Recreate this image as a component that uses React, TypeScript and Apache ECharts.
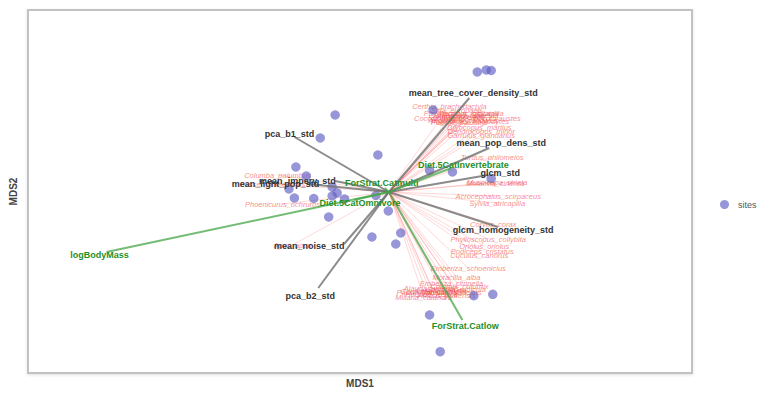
import React, { useEffect, useRef } from "react";
import * as echarts from "echarts";

// Site scores (MDS1, MDS2)
const siteX = [0.89, 0.98, 1.03, 0.445, -0.54, -0.69, -0.11, -0.935, -0.83, -1.005, -0.57, -0.52, -0.57, -0.95, -0.755, -0.445, -0.13, -0.005, -0.605, -0.17, 0.12, 0.07, 0.41, 0.64, 1.03, 0.855, 1.046, 0.41, 0.517];
const siteY = [1.2, 1.22, 1.215, 0.82, 0.77, 0.54, 0.37, 0.25, 0.16, 0.03, 0.05, -0.01, -0.04, -0.06, -0.065, -0.07, -0.035, -0.19, -0.25, -0.45, -0.41, -0.52, 0.215, 0.2, 0.135, -1.037, -1.023, -1.23, -1.597];

// Environmental vectors
const envNames = ["mean_tree_cover_density_std", "mean_pop_dens_std", "glcm_std", "glcm_homogeneity_std", "pca_b1_std", "pca_b2_std", "mean_noise_std", "mean_light_pop_std", "mean_imperv_std"];
const envX = [0.81, 1.01, 1.0, 1.1, -0.95, -0.71, -0.45, -0.82, -0.54];
const envY = [0.94, 0.44, 0.17, -0.35, 0.55, -0.96, -0.52, 0.08, 0.11];
const envLabelX = [0.85, 1.13, 1.12, 1.15, -1.0, -0.79, -0.8, -1.14, -0.92];
const envLabelY = [0.99, 0.49, 0.19, -0.38, 0.58, -1.04, -0.54, 0.08, 0.11];

// Trait vectors / centroids
const traitNames = ["logBodyMass", "ForStrat.Catlow", "ForStrat.Catmulti", "Diet.5CatOmnivore", "Diet.5CatInvertebrate"];
const traitX = [-2.84, 0.74, -0.04, -0.35, 0.63];
const traitY = [-0.6, -1.28, 0.04, -0.08, 0.24];
const traitLabelX = [-2.91, 0.77, -0.07, -0.29, 0.75];
const traitLabelY = [-0.63, -1.34, 0.09, -0.11, 0.27];

// Species scores
const speciesNames = [
  "Certhia_brachydactyla", "Phylloscopus_sibilatrix", "Coccothraustes_coccothraustes", "Sitta_europaea", "Periparus_ater", "Regulus_ignicapilla", "Aegithalos_caudatus", "Poecile_palustris", "Troglodytes_troglodytes", "Fringilla_coelebs", "Erithacus_rubecula", "Dryocopus_martius", "Dendrocopos_minor", "Garrulus_glandarius",
  "Turdus_philomelos", "Muscicapa_striata", "Motacilla_cinerea", "Acrocephalus_scirpaceus", "Sylvia_atricapilla", "Corvus_corax", "Phylloscopus_collybita", "Oriolus_oriolus", "Podiceps_cristatus", "Cuculus_canorus", "Emberiza_schoeniclus", "Motacilla_alba", "Emberiza_citrinella",
  "Alauda_arvensis", "Saxicola_rubicola", "Passer_montanus", "Vanellus_vanellus", "Hirundo_rustica", "Anthus_pratensis", "Carduelis_carduelis", "Miliaria_calandra", "Lanius_collurio", "Coturnix_coturnix",
  "Columba_palumbus", "Phoenicurus_ochruros", "Passer_domesticus", "Apus_apus",
];
const speciesX = [
  0.61, 0.73, 0.79, 0.68, 0.73, 0.83, 0.75, 0.71, 0.81, 0.68, 0.78, 0.91, 0.93, 0.93,
  1.04, 1.09, 1.07, 1.1, 1.09, 1.05, 1.0, 0.96, 0.94, 0.91, 0.8, 0.68, 0.63,
  0.43, 0.68, 0.38, 0.63, 0.43, 0.58, 0.45, 0.35, 0.53, 0.71,
  -1.12, -1.07, -1.17, -0.97,
];
const speciesY = [
  0.86, 0.79, 0.74, 0.82, 0.76, 0.79, 0.72, 0.7, 0.71, 0.75, 0.77, 0.65, 0.61, 0.57,
  0.35, 0.1, 0.09, -0.04, -0.11, -0.32, -0.47, -0.54, -0.59, -0.63, -0.76, -0.85, -0.91,
  -0.96, -0.97, -1.0, -1.0, -1.02, -1.03, -0.99, -1.05, -0.98, -0.94,
  0.17, -0.12, 0.08, -0.53,
];

const FONT = "'Liberation Sans', Arial, Helvetica, sans-serif";

function vectorSeries(
  name: string,
  xs: number[],
  ys: number[],
  lxs: number[],
  lys: number[],
  labels: string[],
  stroke: string,
  lineWidth: number,
  text: any,
  z: number
) {
  return {
    type: "custom",
    name,
    coordinateSystem: "cartesian2d",
    z,
    silent: true,
    data: xs.map((x, i) => [x, ys[i], lxs[i], lys[i]]),
    encode: { x: [0, 2], y: [1, 3] },
    renderItem: (params: any, api: any) => {
      const o = api.coord([0, 0]);
      const e = api.coord([api.value(0), api.value(1)]);
      const l = api.coord([api.value(2), api.value(3)]);
      return {
        type: "group",
        children: [
          {
            type: "line",
            shape: { x1: o[0], y1: o[1], x2: e[0], y2: e[1] },
            style: { stroke, lineWidth },
          },
          {
            type: "text",
            x: l[0],
            y: l[1],
            style: {
              text: labels[params.dataIndex],
              align: "center",
              verticalAlign: "middle",
              fontFamily: FONT,
              ...text,
            },
          },
        ],
      };
    },
  };
}

export default function App() {
  const ref = useRef<HTMLDivElement>(null);
  useEffect(() => {
    if (!ref.current) return;
    const chart = echarts.init(ref.current, null, { renderer: "svg" });
    chart.setOption({
      animation: false,
      backgroundColor: "#ffffff",
      grid: {
        left: 24,
        right: 76,
        top: 10,
        bottom: 21,
        show: true,
        borderColor: "#c2c2c2",
        borderWidth: 2,
        backgroundColor: "#ffffff",
        shadowColor: "rgba(0,0,0,0.12)",
        shadowBlur: 3,
        shadowOffsetY: 1,
      },
      legend: {
        data: ["sites"],
        left: 715,
        top: 195,
        icon: "circle",
        itemWidth: 9,
        itemHeight: 9,
        textStyle: { fontSize: 9, color: "#555", fontFamily: FONT, padding: [0, 0, 0, 4] },
      },
      xAxis: {
        type: "value",
        min: -3.63,
        max: 3.05,
        name: "MDS1",
        nameLocation: "middle",
        nameGap: 5,
        nameTextStyle: { fontWeight: "bold", fontSize: 10, color: "#444", fontFamily: FONT, verticalAlign: "top" },
        axisLine: { show: false },
        axisTick: { show: false },
        axisLabel: { show: false },
        splitLine: { show: false },
      },
      yAxis: {
        type: "value",
        min: -1.81,
        max: 1.82,
        name: "MDS2",
        nameLocation: "middle",
        nameGap: 10,
        nameTextStyle: { fontWeight: "bold", fontSize: 10, color: "#444", fontFamily: FONT },
        axisLine: { show: false },
        axisTick: { show: false },
        axisLabel: { show: false },
        splitLine: { show: false },
      },
      series: [
        vectorSeries(
          "species",
          speciesX,
          speciesY,
          speciesX,
          speciesY,
          speciesNames,
          "rgba(255,60,60,0.25)",
          0.8,
          { fill: "rgba(240,60,60,0.6)", fontSize: 7.5, fontStyle: "italic" },
          2
        ),
        {
          type: "scatter",
          name: "sites",
          z: 3,
          symbol: "circle",
          symbolSize: 9.5,
          itemStyle: { color: "rgba(95,95,195,0.82)" },
          data: siteX.map((x, i) => [x, siteY[i]]),
        },
        vectorSeries(
          "env",
          envX,
          envY,
          envLabelX,
          envLabelY,
          envNames,
          "rgba(110,110,110,0.8)",
          2,
          { fill: "#333333", fontSize: 9, fontWeight: "bold" },
          4
        ),
        vectorSeries(
          "traits",
          traitX,
          traitY,
          traitLabelX,
          traitLabelY,
          traitNames,
          "rgba(70,165,70,0.75)",
          2,
          { fill: "#1f8f1f", fontSize: 9, fontWeight: "bold" },
          5
        ),
      ],
    });
    return () => chart.dispose();
  }, []);
  return (
    <div
      ref={ref}
      style={{ position: "fixed", left: 0, top: 0, width: 768, height: 394 }}
    />
  );
}
